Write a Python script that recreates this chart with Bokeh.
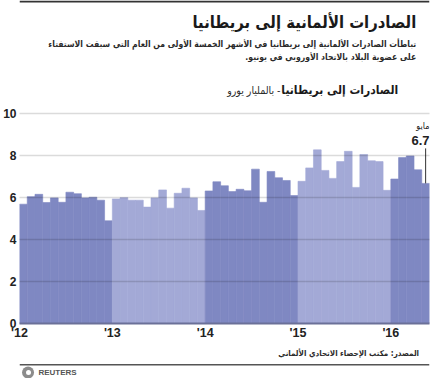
from bokeh.plotting import figure
from bokeh.layouts import column
from bokeh.models import Range1d, FixedTicker, Label, ColumnDataSource
from bokeh.embed import file_html
from bokeh.resources import INLINE

# German exports to Britain, billion euros, monthly Jan 2012 - May 2016
exports_2012 = [5.69, 6.05, 6.16, 5.77, 5.99, 5.78, 6.26, 6.19, 5.99, 6.02, 5.88, 4.90]
exports_2013 = [5.94, 6.00, 5.88, 5.88, 5.55, 5.99, 6.37, 5.50, 6.21, 6.45, 5.99, 5.39]
exports_2014 = [6.32, 6.76, 6.57, 6.29, 6.40, 6.33, 7.36, 5.78, 7.25, 6.95, 6.82, 6.10]
exports_2015 = [6.78, 7.42, 8.28, 7.30, 6.92, 7.72, 8.21, 6.49, 8.06, 7.76, 7.72, 6.35]
exports_2016 = [6.89, 7.91, 7.99, 7.33, 6.68]
year_labels = ["'12", "'13", "'14", "'15", "'16"]
y_ticks = [0, 2, 4, 6, 8, 10]
last_value_label = "6.7"
last_month_label = "مايو"

title_text = "الصادرات الألمانية إلى بريطانيا"
sub_line1 = "تباطأت الصادرات الألمانية إلى بريطانيا في الأشهر الخمسة الأولى من العام التي سبقت الاستفتاء"
sub_line2 = "على عضوية البلاد بالاتحاد الأوروبي في يونيو.\u200f"
chart_title_bold = "الصادرات إلى بريطانيا"
chart_title_unit = "\u200f- بالمليار يورو"
source_text = "المصدر: مكتب الإحصاء الاتحادي الألماني"

DARK = "#7f88c2"
LIGHT = "#a3a9d6"
W = 432
AR = "DejaVu Sans Condensed, DejaVu Sans"


def blank_fig(h):
    f = figure(width=W, height=h, output_backend="svg", toolbar_location=None,
               x_range=Range1d(0, W), y_range=Range1d(0, h),
               min_border=0, min_border_left=0, min_border_right=0,
               min_border_top=0, min_border_bottom=0)
    f.axis.visible = False
    f.grid.visible = False
    f.outline_line_color = None
    f.background_fill_color = "white"
    f.border_fill_color = "white"
    return f


def add_text(f, h, x, y_from_top, text, size, bold=False, color="#222222", font=AR, align="right"):
    f.add_layout(Label(x=x, y=h - y_from_top, text=text, text_align=align, text_baseline="middle",
                       text_font=font, text_font_size=size,
                       text_font_style="bold" if bold else "normal", text_color=color))


# ---------- header ----------
HH = 98
head = blank_fig(HH)
head.quad(left=[0], right=[W], bottom=[HH - 2], top=[HH], fill_color="#333333", line_color=None)
add_text(head, HH, 418, 22, title_text, "16.5px", bold=True, color="#1a1a1a")
add_text(head, HH, 418, 43, sub_line1, "8.6px", bold=True, color="#2a2a2a")
add_text(head, HH, 418, 56, sub_line2, "8.6px", bold=True, color="#2a2a2a")
add_text(head, HH, 399, 89, chart_title_bold, "12px", bold=True, color="#1a1a1a")
add_text(head, HH, 275, 89, chart_title_unit, "10.5px", color="#2a2a2a")

# ---------- chart ----------
years = [exports_2012, exports_2013, exports_2014, exports_2015, exports_2016]
vals, xs, cols = [], [], []
i = 0
for yi, arr in enumerate(years):
    for v in arr:
        vals.append(v)
        xs.append(i + 0.5)
        cols.append(DARK if yi % 2 == 0 else LIGHT)
        i += 1
n = len(vals)
src = ColumnDataSource(dict(x=xs, v=vals, c=cols))

p = figure(width=W, height=244, output_backend="svg", toolbar_location=None,
           x_range=Range1d(0, n), y_range=Range1d(0, 10.3),
           min_border_left=19, min_border_right=3, min_border_top=9, min_border_bottom=18)
p.outline_line_color = None
p.background_fill_color = "white"
p.border_fill_color = "white"

p.vbar(x="x", top="v", bottom=0, width=1, fill_color="c", line_color="c", line_width=0.6, source=src)

p.xgrid.visible = False
p.ygrid.ticker = FixedTicker(ticks=[t for t in y_ticks if t > 0])
p.ygrid.grid_line_color = "black"
p.ygrid.grid_line_alpha = 0.14
p.ygrid.grid_line_width = 1.5
p.ygrid.level = "overlay"

ya = p.yaxis[0]
ya.ticker = FixedTicker(ticks=y_ticks)
ya.axis_line_color = None
ya.major_tick_line_color = None
ya.minor_tick_line_color = None
ya.major_tick_out = 0
ya.major_tick_in = 0
ya.minor_tick_out = 0
ya.major_label_text_font = "Liberation Sans"
ya.major_label_text_font_style = "bold"
ya.major_label_text_font_size = "12px"
ya.major_label_text_color = "#222222"
ya.major_label_standoff = 3

xa = p.xaxis[0]
xa.ticker = FixedTicker(ticks=[12 * k for k in range(len(year_labels))])
xa.major_label_overrides = {12 * k: lab for k, lab in enumerate(year_labels)}
xa.axis_line_color = "#6b7098"
xa.axis_line_width = 2
xa.major_tick_line_color = None
xa.minor_tick_line_color = None
xa.major_tick_out = 0
xa.major_tick_in = 0
xa.minor_tick_out = 0
xa.major_label_text_font = "Liberation Sans"
xa.major_label_text_font_style = "bold"
xa.major_label_text_font_size = "12.5px"
xa.major_label_text_color = "#222222"
xa.major_label_standoff = 2

last = vals[-1]
p.segment(x0=[n - 0.5], y0=[last], x1=[n - 0.5], y1=[last + 1.67], line_color="#333333", line_width=1)
p.add_layout(Label(x=n, y=last + 2.03, text=last_value_label, text_align="right", text_baseline="middle",
                   text_font="Liberation Sans", text_font_style="bold", text_font_size="13px",
                   text_color="#222222"))
p.add_layout(Label(x=n, y=last + 2.72, text=last_month_label, text_align="right", text_baseline="middle",
                   text_font=AR, text_font_size="9px", text_color="#222222"))

# ---------- footer ----------
FH = 36
foot = blank_fig(FH)
add_text(foot, FH, 421, 11, source_text, "8px", bold=True, color="#2a2a2a")
foot.quad(left=[0], right=[W], bottom=[FH - 23], top=[FH - 21.5], fill_color="#555555", line_color=None)
foot.scatter(x=[9], y=[FH - 30], size=12, marker="circle", fill_color="#8c8c8c", line_color=None)
foot.scatter(x=[9.5], y=[FH - 30], size=5, marker="circle", fill_color="white", line_color=None)
add_text(foot, FH, 20, 30, "REUTERS", "8px", bold=True, color="#555555", font="Liberation Sans", align="left")

layout = column(head, p, foot, spacing=0)
open("out.html", "w").write(file_html(layout, INLINE))
